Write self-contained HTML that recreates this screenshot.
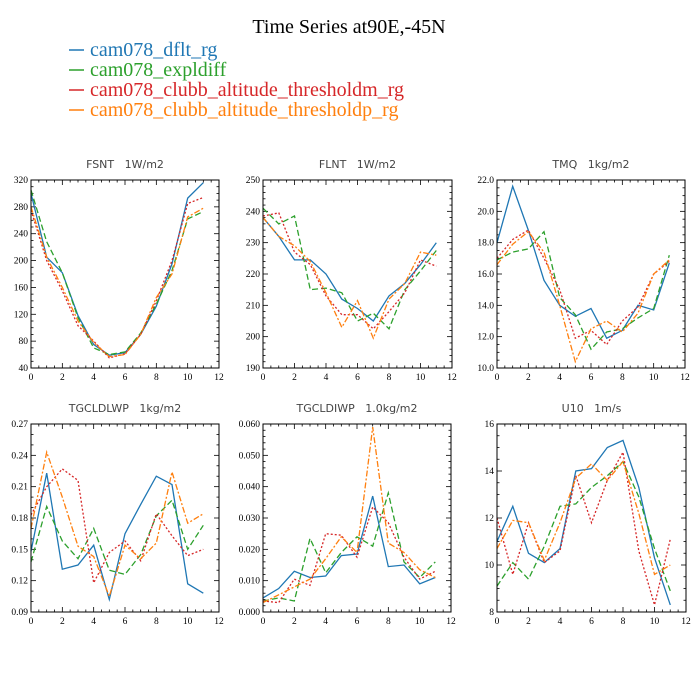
<!DOCTYPE html>
<html><head><meta charset="utf-8"><style>
body{margin:0;background:#fff;}
svg{display:block;}
.tk{font-family:"Liberation Serif",serif;font-size:9.5px;fill:#000;}
.pt{font-family:"DejaVu Sans",sans-serif;font-size:11px;fill:#444;white-space:pre;}
</style></head><body>
<svg id="c" width="700" height="700" viewBox="0 0 700 700" xmlns="http://www.w3.org/2000/svg">
<text x="349" y="33" text-anchor="middle" font-family="Liberation Serif,serif" font-size="20" fill="#000">Time Series at90E,-45N</text>
<g id="legend"></g>
<g id="panels"></g>
</svg>
<script>
const seriesNames=["cam078_dflt_rg","cam078_expldiff","cam078_clubb_altitude_thresholdm_rg","cam078_clubb_altitude_thresholdp_rg"];
const colors=["#1f77b4","#2ca02c","#d62728","#ff7f0e"];
const dashes=["","6,3","2,2","6,2,2,2"];
const months=[0,1,2,3,4,5,6,7,8,9,10,11];
const xTicks=[0,2,4,6,8,10,12];

const fsntBlue=[300,205,182,118,75,59,63,90,132,195,293,316];
const fsntGreen=[305,228,182,115,70,60,64,92,135,185,262,273];
const fsntRed=[275,200,155,103,80,55,61,90,140,200,285,294];
const fsntOrange=[280,205,160,110,78,57,60,90,145,180,265,278];
const fsntTicks=["40","80","120","160","200","240","280","320"];

const flntBlue=[238,232,224.5,224.5,220,212,209,205,213,217,223,230];
const flntGreen=[241,236,238.5,215,215.5,214,205,207.5,202.5,215,221,227.5];
const flntRed=[238.5,239.5,227,223,213,207,207,202.5,208,214,224.5,222.5];
const flntOrange=[238,232,229,224,214,203,211.5,199.5,212,217,227,226];
const flntTicks=["190","200","210","220","230","240","250"];

const tmqBlue=[18,21.6,18.8,15.6,14,13.3,13.8,11.9,12.4,14,13.7,16.7];
const tmqGreen=[16.9,17.4,17.6,18.7,14.5,13.4,11.2,12.3,12.5,13.2,13.8,17.2];
const tmqRed=[17,18.2,18.8,17,15,11.9,12.4,11.5,13,13.9,16,16.8];
const tmqOrange=[16.6,17.9,18.7,17.4,14,10.4,12.5,13,12.3,13.5,16,16.9];
const tmqTicks=["10.0","12.0","14.0","16.0","18.0","20.0","22.0"];

const lwpBlue=[0.148,0.223,0.131,0.135,0.154,0.102,0.165,0.193,0.220,0.212,0.117,0.108];
const lwpGreen=[0.138,0.191,0.158,0.141,0.170,0.130,0.126,0.145,0.182,0.197,0.150,0.173];
const lwpRed=[0.183,0.210,0.227,0.216,0.118,0.147,0.158,0.139,0.184,0.163,0.144,0.150];
const lwpOrange=[0.170,0.243,0.200,0.153,0.143,0.105,0.154,0.141,0.156,0.224,0.175,0.184];
const lwpTicks=["0.09","0.12","0.15","0.18","0.21","0.24","0.27"];

const iwpBlue=[0.0045,0.0075,0.013,0.011,0.0115,0.018,0.0185,0.037,0.0145,0.015,0.009,0.011];
const iwpGreen=[0.0035,0.0045,0.0035,0.0235,0.0125,0.019,0.024,0.021,0.038,0.016,0.011,0.016];
const iwpRed=[0.0035,0.003,0.0105,0.0085,0.025,0.0245,0.0175,0.0335,0.0285,0.0175,0.0105,0.013];
const iwpOrange=[0.003,0.0055,0.008,0.0105,0.017,0.024,0.019,0.059,0.022,0.019,0.0135,0.011];
const iwpTicks=["0.000","0.010","0.020","0.030","0.040","0.050","0.060"];

const u10Blue=[11,12.5,10.5,10.1,10.7,14,14.1,15,15.3,13.3,10.3,8.3];
const u10Green=[9.1,10.1,9.4,10.8,12.5,12.6,13.3,13.8,14.4,12.9,10.7,8.9];
const u10Red=[12,9.6,11.8,10.1,10.6,13.8,11.8,13.6,14.8,10.6,8.3,11.1];
const u10Orange=[10.7,11.9,11.8,10.2,11.8,13.7,14.3,13.6,14.4,12.2,9.6,10];
const u10Ticks=["8","10","12","14","16"];

const NS="http://www.w3.org/2000/svg";
function mk(tag,attrs,parent){const e=document.createElementNS(NS,tag);for(const k in attrs)e.setAttribute(k,attrs[k]);parent.appendChild(e);return e;}

const leg=document.getElementById('legend');
seriesNames.forEach((n,i)=>{
  const y=50+i*20;
  const ln=mk('line',{x1:69,x2:84,y1:y,y2:y,stroke:colors[i],'stroke-width':1.5},leg);
  
  
  const t=mk('text',{x:90,y:y+6,'font-family':'Liberation Serif,serif','font-size':20,fill:colors[i]},leg);
  t.textContent=n;
  
  
});

const panels=[
 {name:'fsnt',title:'FSNT   1W/m2',L:31,R:219,T:180,B:368,ticks:fsntTicks,minor:4,data:[fsntBlue,fsntGreen,fsntRed,fsntOrange]},
 {name:'flnt',title:'FLNT   1W/m2',L:263,R:452,T:180,B:368,ticks:flntTicks,minor:5,data:[flntBlue,flntGreen,flntRed,flntOrange]},
 {name:'tmq',title:'TMQ   1kg/m2',L:497,R:685,T:180,B:368,ticks:tmqTicks,minor:4,data:[tmqBlue,tmqGreen,tmqRed,tmqOrange]},
 {name:'tgcldlwp',title:'TGCLDLWP   1kg/m2',L:31,R:219,T:424,B:612,ticks:lwpTicks,minor:3,data:[lwpBlue,lwpGreen,lwpRed,lwpOrange]},
 {name:'tgcldiwp',title:'TGCLDIWP   1.0kg/m2',L:263,R:451,T:424,B:612,ticks:iwpTicks,minor:5,data:[iwpBlue,iwpGreen,iwpRed,iwpOrange]},
 {name:'u10',title:'U10   1m/s',L:497,R:686,T:424,B:612,ticks:u10Ticks,minor:4,data:[u10Blue,u10Green,u10Red,u10Orange]}
];
const root=document.getElementById('panels');
panels.forEach(p=>{
  const g=mk('g',{},root);
  
  
  const y0=parseFloat(p.ticks[0]),y1=parseFloat(p.ticks[p.ticks.length-1]);
  const xs=v=>p.L+(v/12)*(p.R-p.L);
  const ys=v=>p.B-(v-y0)/(y1-y0)*(p.B-p.T);
  const tt=mk('text',{x:(p.L+p.R)/2,y:p.T-12,'text-anchor':'middle',class:'pt','xml:space':'preserve'},g);
  tt.textContent=p.title;
  
  
  const ax=mk('g',{stroke:'#000','stroke-width':0.8},g);
  
  
  for(let v=0;v<=12;v+=0.5){
    const x=xs(v),len=(v%2===0)?5:2.5;
    mk('line',{x1:x,x2:x,y1:p.B,y2:p.B-len},ax);
    mk('line',{x1:x,x2:x,y1:p.T,y2:p.T+len},ax);
  }
  xTicks.forEach(v=>{
    const t=mk('text',{x:xs(v),y:p.B+12,'text-anchor':'middle',class:'tk'},g);
    t.textContent=v;
    
    
  });
  const n=p.ticks.length-1;
  for(let i=0;i<=n*p.minor;i++){
    const v=y0+(y1-y0)*i/(n*p.minor),y=ys(v),len=(i%p.minor===0)?5:2.5;
    mk('line',{x1:p.L,x2:p.L+len,y1:y,y2:y},ax);
    mk('line',{x1:p.R,x2:p.R-len,y1:y,y2:y},ax);
  }
  p.ticks.forEach(s=>{
    const t=mk('text',{x:p.L-3,y:ys(parseFloat(s))+3,'text-anchor':'end',class:'tk'},g);
    t.textContent=s;
    
    
  });
  p.data.forEach((arr,si)=>{
    const pts=months.map((m,i)=>xs(m).toFixed(1)+','+ys(arr[i]).toFixed(1)).join(' ');
    const pl=mk('polyline',{points:pts,fill:'none',stroke:colors[si],'stroke-width':1.3,'stroke-dasharray':dashes[si]},g);
    
    
  });
  const fr=mk('rect',{x:p.L,y:p.T,width:p.R-p.L,height:p.B-p.T,fill:'none',stroke:'#000','stroke-width':1},g);
  
  
});
</script>
</body></html>
